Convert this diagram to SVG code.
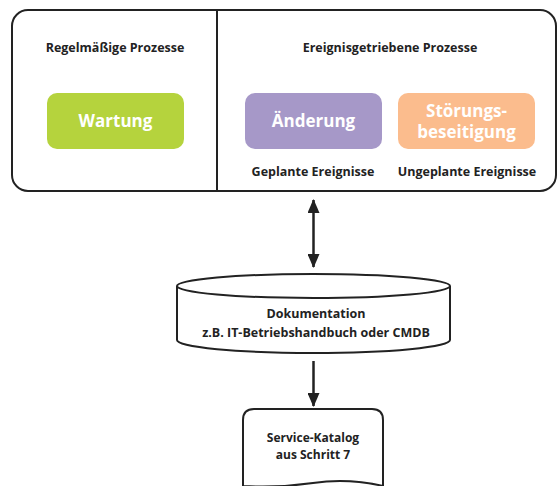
<svg xmlns="http://www.w3.org/2000/svg" width="557" height="486" viewBox="0 0 557 486">
<style>
.lbl{font-family:"Open Sans","Liberation Sans",sans-serif;font-weight:bold;font-size:12.5px;fill:#222;text-anchor:middle}
.sm{font-size:12px}
.big{font-family:"Open Sans","Liberation Sans",sans-serif;font-weight:bold;font-size:17px;fill:#fff;text-anchor:middle}
.frame{fill:#fff;stroke:#222;stroke-width:2}
.conn{stroke:#222;stroke-width:2.5;fill:none}
</style>
<defs>
<marker id="ah" viewBox="0 0 14 12" refX="13" refY="6" markerWidth="14" markerHeight="12" markerUnits="userSpaceOnUse" orient="auto-start-reverse">
<path d="M0,0 L14,6 L0,12 Z" fill="#222"/>
</marker>
</defs>
<g id="prozesse">
<rect class="frame" x="12" y="10" width="544" height="181" rx="16"/>
<line x1="217" y1="10" x2="217" y2="191" stroke="#222" stroke-width="2"/>
<text class="lbl" x="115" y="52">Regelmäßige Prozesse</text>
<text class="lbl" x="390" y="52">Ereignisgetriebene Prozesse</text>
</g>
<g id="wartung">
<rect x="47" y="93" width="137" height="56" rx="10" fill="#b5d33d"/>
<text class="big" x="115.5" y="127">Wartung</text>
</g>
<g id="aenderung">
<rect x="245" y="93" width="137" height="56" rx="10" fill="#a698c8"/>
<text class="big" x="313.5" y="127">Änderung</text>
<text class="lbl" x="313" y="176">Geplante Ereignisse</text>
</g>
<g id="stoerung">
<rect x="398" y="93" width="137" height="56" rx="10" fill="#fbbc8d"/>
<text class="big" x="466.5" y="117">Störungs-</text>
<text class="big" x="466.5" y="138">beseitigung</text>
<text class="lbl" x="467" y="176">Ungeplante Ereignisse</text>
</g>
<g id="dokumentation">
<path class="frame" d="M177,286 L177,340 A136.5,13 0 0 0 450,340 L450,286"/>
<ellipse class="frame" cx="313.5" cy="286" rx="136.5" ry="12"/>
<text class="lbl" x="316" y="318">Dokumentation</text>
<text class="lbl" x="316" y="337">z.B. IT-Betriebshandbuch oder CMDB</text>
</g>
<g id="katalog">
<path class="frame" d="M243,486 L243,420 Q243,409 254,409 L372,409 Q383,409 383,420 L383,486 Q348,478 313,483 Q278,488 243,486 Z"/>
<text class="lbl sm" x="313" y="442">Service-Katalog</text>
<text class="lbl sm" x="313" y="459">aus Schritt 7</text>
</g>
<g id="connectors">
<line class="conn" x1="313.5" y1="200" x2="313.5" y2="267" marker-start="url(#ah)" marker-end="url(#ah)"/>
<line class="conn" x1="313.5" y1="361" x2="313.5" y2="406" marker-end="url(#ah)"/>
</g>
</svg>
